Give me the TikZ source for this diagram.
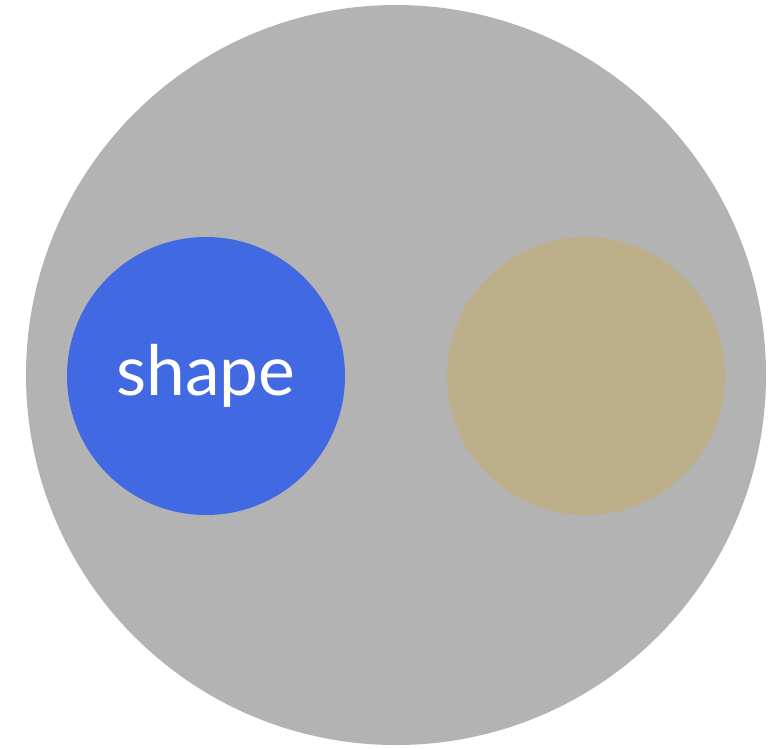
\documentclass[tikz,border=0pt]{standalone}
\usepackage{fontspec}
\setmainfont{Lato}
\definecolor{outergray}{RGB}{179,179,179}
\definecolor{shapeblue}{RGB}{65,105,225}
\definecolor{shapetan}{RGB}{188,175,138}
\begin{document}
\begin{tikzpicture}[x=1pt,y=-1pt,
  outer/.style={circle,fill=outergray,minimum size=740pt,inner sep=0pt},
  inner/.style={circle,minimum size=278pt,inner sep=0pt,text=white,font=\fontsize{69.5}{80}\selectfont}]
\useasboundingbox (0,0) rectangle (782,748);
\node[outer] (big) at (396,375) {};
\node[inner,fill=shapeblue] (a) at (206,376) {shape};
\node[inner,fill=shapetan] (b) at (586,376) {};
\end{tikzpicture}
\end{document}
